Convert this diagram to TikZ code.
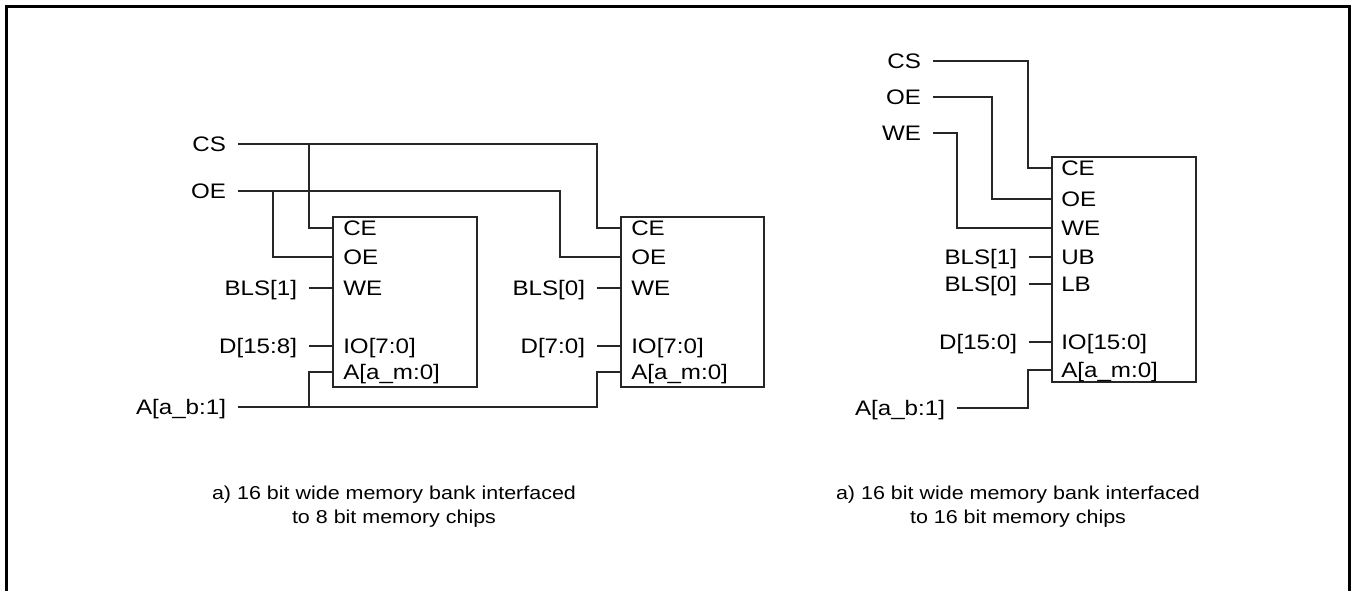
\documentclass[tikz,border=0pt]{standalone}
\usepackage{fontspec}
\setmainfont[FakeStretch=1.15]{Liberation Sans}
\begin{document}
\begin{tikzpicture}[x=0.75pt,y=-0.75pt,
  wire/.style={line width=0.8pt, draw=black!85},
  chip/.style={draw=black!85, line width=0.8pt, inner sep=0pt, outer sep=0pt, anchor=north west},
  lbl/.style={anchor=east, inner sep=0pt, outer xsep=9pt, font=\fontsize{15.75}{19}\selectfont, text height=11.3pt, text depth=0pt},
  pin/.style={anchor=west, inner sep=0pt, font=\fontsize{15.75}{19}\selectfont, text height=11.3pt, text depth=0pt},
  captxt/.style={anchor=base, inner sep=0pt, font=\fontsize{14}{17}\selectfont},
  frame/.style={line width=2.25pt, draw=black}]
\useasboundingbox (0,0) rectangle (1351,591);
\draw[frame] (6.5,591) -- (6.5,6.5) -- (1349.5,6.5) -- (1349.5,591);

% ---------- left: two 8-bit chips ----------
\node[chip, minimum width=108pt, minimum height=127.5pt] (c1) at (333,217) {};
\node[chip, minimum width=107.25pt, minimum height=127.5pt] (c2) at (621,217) {};
\foreach \c/\x in {c1/343, c2/631}{
  \node[pin] (\c ce) at (\x,228) {CE};
  \node[pin] (\c oe) at (\x,257) {OE};
  \node[pin] (\c we) at (\x,288) {WE};
  \node[pin] (\c io) at (\x,346) {IO[7:0]};
  \node[pin] (\c a)  at (\x,372) {A[a\_m:0]};
}
\node[lbl] (cs) at (238,144) {CS};
\node[lbl] (oe) at (238,191) {OE};
\node[lbl] (ab) at (238,407) {A[a\_b:1]};
\node[lbl] (bls1) at (309,288) {BLS[1]};
\node[lbl] (dh) at (309,346) {D[15:8]};
\node[lbl] (bls0) at (597,288) {BLS[0]};
\node[lbl] (dl) at (597,346) {D[7:0]};
\coordinate (jcs1) at (309,144);
\coordinate (jcs2) at (597,144);
\coordinate (joe1) at (273,191);
\coordinate (joe2) at (560,191);
\coordinate (ja1) at (309,407);
\coordinate (ja2) at (597,407);
\draw[wire] (cs.east) -- (jcs2) |- (c2.west |- c2ce);
\draw[wire] (jcs1) |- (c1.west |- c1ce);
\draw[wire] (oe.east) -- (joe2) |- (c2.west |- c2oe);
\draw[wire] (joe1) |- (c1.west |- c1oe);
\draw[wire] (ab.east) -- (ja2) |- (c2.west |- c2a);
\draw[wire] (ja1) |- (c1.west |- c1a);
\draw[wire] (bls1.east) -- (c1.west |- c1we);
\draw[wire] (dh.east) -- (c1.west |- c1io);
\draw[wire] (bls0.east) -- (c2.west |- c2we);
\draw[wire] (dl.east) -- (c2.west |- c2io);
\node[captxt] (capla) at (394,499) {a) 16 bit wide memory bank interfaced};
\node[captxt] (caplb) at (394,523) {to 8 bit memory chips};

% ---------- right: one 16-bit chip ----------
\node[chip, minimum width=108pt, minimum height=168.75pt] (c3) at (1052,157) {};
\node[pin] (c3ce) at (1061,168) {CE};
\node[pin] (c3oe) at (1061,199) {OE};
\node[pin] (c3we) at (1061,228) {WE};
\node[pin] (c3ub) at (1061,257) {UB};
\node[pin] (c3lb) at (1061,284) {LB};
\node[pin] (c3io) at (1061,342) {IO[15:0]};
\node[pin] (c3a)  at (1061,370) {A[a\_m:0]};
\node[lbl] (rcs) at (933,61) {CS};
\node[lbl] (roe) at (933,97) {OE};
\node[lbl] (rwe) at (933,133) {WE};
\node[lbl] (rbls1) at (1029,257) {BLS[1]};
\node[lbl] (rbls0) at (1029,284) {BLS[0]};
\node[lbl] (rd) at (1029,342) {D[15:0]};
\node[lbl] (rab) at (957,408) {A[a\_b:1]};
\coordinate (kcs) at (1028,61);
\coordinate (koe) at (992,97);
\coordinate (kwe) at (957,133);
\coordinate (ka) at (1028,408);
\draw[wire] (rcs.east) -- (kcs) |- (c3.west |- c3ce);
\draw[wire] (roe.east) -- (koe) |- (c3.west |- c3oe);
\draw[wire] (rwe.east) -- (kwe) |- (c3.west |- c3we);
\draw[wire] (rab.east) -- (ka) |- (c3.west |- c3a);
\draw[wire] (rbls1.east) -- (c3.west |- c3ub);
\draw[wire] (rbls0.east) -- (c3.west |- c3lb);
\draw[wire] (rd.east) -- (c3.west |- c3io);
\node[captxt] (capra) at (1018,499) {a) 16 bit wide memory bank interfaced};
\node[captxt] (caprb) at (1018,523) {to 16 bit memory chips};
\end{tikzpicture}
\end{document}
